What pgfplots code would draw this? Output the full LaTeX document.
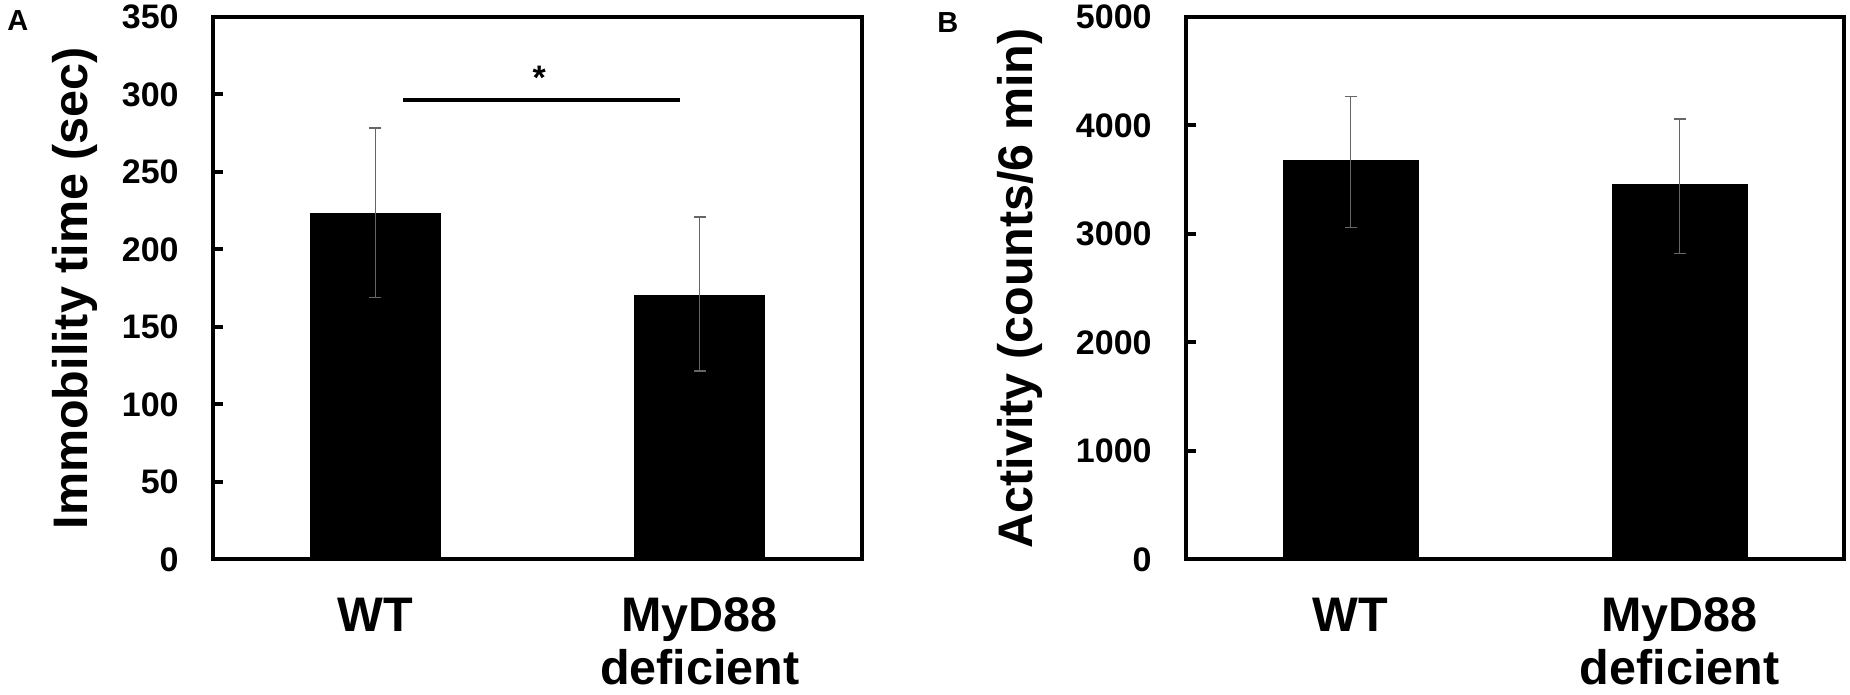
\documentclass[border=0pt]{standalone}
\usepackage{pgfplots}
\pgfplotsset{compat=1.18}
\usepackage{fontspec}
\setmainfont{Liberation Sans}
\begin{document}
\begin{tikzpicture}
\useasboundingbox (0,0) rectangle (925pt,347.5pt);
\pgfplotsset{
  myaxis/.style={
    scale only axis,
    anchor=south west,
    height=271.25pt,
    bar width=0.4,
    xmin=-0.5, xmax=1.5,
    ymin=0,
    xtick={0,1},
    xticklabels={WT, MyD88\\deficient},
    xtick style={draw=none},
    xticklabel style={font=\fontsize{24.25}{26.5}\selectfont\bfseries, align=center, inner sep=0pt, anchor=north, yshift=-19pt},
    ytick pos=left,
    tick align=inside,
    major tick length=5pt,
    ytick style={line width=2pt, black},
    axis line style={line width=2pt},
    yticklabel style={font=\fontsize{17}{17}\selectfont\bfseries, inner sep=0pt, anchor=east, xshift=-17pt},
    /pgf/number format/assume math mode=true,
    /pgf/number format/1000 sep={},
    ylabel style={font=\fontsize{24.25}{24.25}\selectfont\bfseries, anchor=base, inner sep=0pt},
    clip=false,
  },
  mybar/.style={
    ybar, bar shift=0pt, fill=black, draw=black, line width=0.4pt,
    error bars/.cd, y dir=both, y explicit,
    error bar style={line width=0.7pt, color=black!60},
    error mark options={rotate=90, mark size=3pt, line width=0.7pt, color=black!60},
  }
}
\node[anchor=north west, inner sep=0pt, font=\fontsize{14.5}{14.5}\selectfont\bfseries] at (3.5pt,342.5pt) {A};
\node[anchor=north west, inner sep=0pt, font=\fontsize{14.5}{14.5}\selectfont\bfseries] at (468.5pt,341.5pt) {B};

\begin{axis}[myaxis, at={(106.5pt,67.75pt)}, width=324.5pt,
  ymax=350, ytick={0,50,...,350},
  ylabel={Immobility time (sec)},
  ylabel style={at={(axis description cs:-0.194,0.5)}}]
\addplot[mybar] coordinates {(0,223.5) += (0,55) -= (0,54.5) (1,170.5) += (0,50.5) -= (0,49)};
\addplot[sharp plot, no marks, line width=1.8pt, black] coordinates {(0.087,296.5) (0.938,296.5)};
\node[font=\fontsize{17}{17}\selectfont\bfseries, inner sep=0pt] at (axis cs:0.505,310.5) {*};
\end{axis}

\begin{axis}[myaxis, at={(593pt,67.75pt)}, width=329pt, bar width=0.41,
  ymax=5000, ytick={0,1000,...,5000},
  ylabel={Activity (counts/6 min)},
  ylabel style={at={(axis description cs:-0.234,0.5)}}]
\addplot[mybar] coordinates {(0,3675) += (0,590) -= (0,615) (1,3460) += (0,600) -= (0,640)};
\end{axis}
\end{tikzpicture}
\end{document}
